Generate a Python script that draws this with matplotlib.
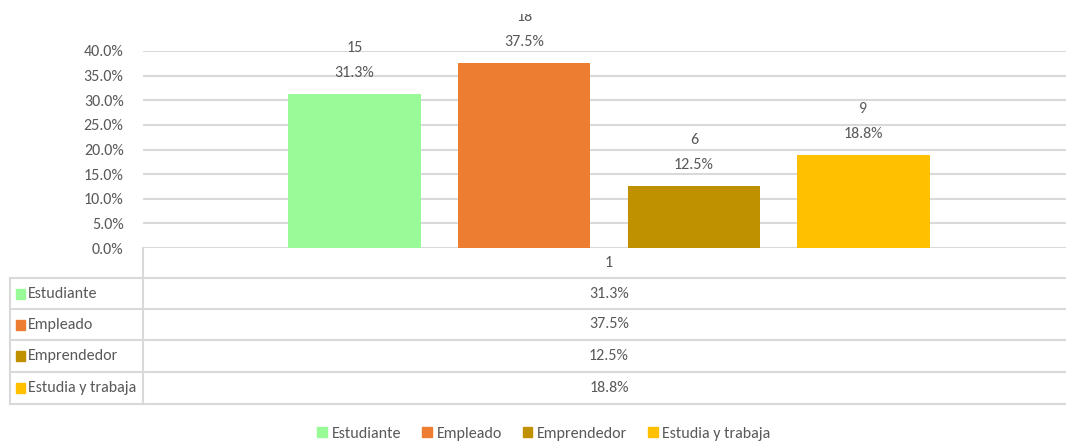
import matplotlib

matplotlib.use("Agg")
import matplotlib.pyplot as plt
from matplotlib.lines import Line2D
from matplotlib.patches import Patch
from matplotlib.transforms import Bbox
from matplotlib.ticker import PercentFormatter

plt.rcParams["font.family"] = ["Carlito", "Liberation Sans Narrow", "Roboto Condensed", "DejaVu Sans"]

CATEGORIES = ["Estudiante", "Empleado", "Emprendedor", "Estudia y trabaja"]
COUNTS = [15, 18, 6, 9]
PCTS = [31.3, 37.5, 12.5, 18.8]
COLORS = ["#98FB98", "#ED7D31", "#BF9000", "#FFC000"]
GROUP = "1"
YTICKS = [0, 5, 10, 15, 20, 25, 30, 35, 40]

W, H = 1066, 442
TXT = "#595959"
GRID = "#d9d9d9"
FS = 11.5


def fx(x):
    return x / W


def fy(y):
    return 1 - y / H


fig = plt.figure(figsize=(W / 100, H / 100), dpi=100)

# plot area: x 143..1075 px (runs off the right edge), y 51..248 px
ax = fig.add_axes([fx(143), fy(248), fx(1075 - 143), (248 - 51) / H])
n = len(CATEGORIES)
xs = [i - (n - 1) / 2 for i in range(n)]
ax.bar(xs, PCTS, width=0.78, color=COLORS, zorder=3)
ax.set_xlim(-2.747, 2.747)
ax.set_ylim(0, 40)
ax.set_yticks(YTICKS)
ax.yaxis.set_major_formatter(PercentFormatter(decimals=1))
ax.tick_params(axis="y", length=0, labelsize=FS, colors=TXT, pad=14)
ax.set_xticks([])
ax.grid(axis="y", color=GRID, lw=1.5, zorder=0)
for s in ax.spines.values():
    s.set_visible(False)

# the chart area in the source cuts off anything above ~14 px
top_clip = Bbox.from_extents(0, 0, W, H - 14)
for x, c, p in zip(xs, COUNTS, PCTS):
    ax.annotate(f"{p:.1f}%", (x, p), xytext=(0, 21), textcoords="offset pixels",
                ha="center", va="center", fontsize=FS, color=TXT,
                annotation_clip=False)
    t = ax.annotate(f"{c}", (x, p), xytext=(0, 46), textcoords="offset pixels",
                    ha="center", va="center", fontsize=FS, color=TXT,
                    annotation_clip=False)
    t.set_clip_on(True)
    t.set_clip_box(top_clip)

# data table under the axis
row_edges = [248, 278, 309, 340, 372, 404]
col_x = (143 + 1075) / 2


def hline(y, x0, x1=1075):
    fig.add_artist(Line2D([fx(x0), fx(x1)], [fy(y), fy(y)], color=GRID, lw=1.5))


def vline(x, y0, y1):
    fig.add_artist(Line2D([fx(x), fx(x)], [fy(y0), fy(y1)], color=GRID, lw=1.5))


vline(143, row_edges[0], row_edges[-1])
vline(10, row_edges[1], row_edges[-1])
for y in row_edges[1:]:
    hline(y, 10)
fig.text(fx(col_x), fy((row_edges[0] + row_edges[1]) / 2), GROUP,
         ha="center", va="center", fontsize=FS, color=TXT)
for i, (name, p, col) in enumerate(zip(CATEGORIES, PCTS, COLORS)):
    yc = (row_edges[i + 1] + row_edges[i + 2]) / 2
    fig.patches.append(plt.Rectangle((fx(16), fy(yc + 5)), fx(9), 10 / H,
                                     color=col, transform=fig.transFigure,
                                     figure=fig))
    fig.text(fx(28), fy(yc), name, ha="left", va="center", fontsize=FS, color=TXT)
    fig.text(fx(col_x), fy(yc), f"{p:.1f}%", ha="center", va="center",
             fontsize=FS, color=TXT)

handles = [Patch(color=c, label=l) for c, l in zip(COLORS, CATEGORIES)]
fig.legend(handles=handles, loc="center", bbox_to_anchor=(fx(544), fy(434)),
           ncol=4, frameon=False, fontsize=FS, labelcolor=TXT,
           handlelength=0.6, handleheight=0.6, handletextpad=0.3,
           columnspacing=1.3)

fig.savefig("out.png", dpi=100)
